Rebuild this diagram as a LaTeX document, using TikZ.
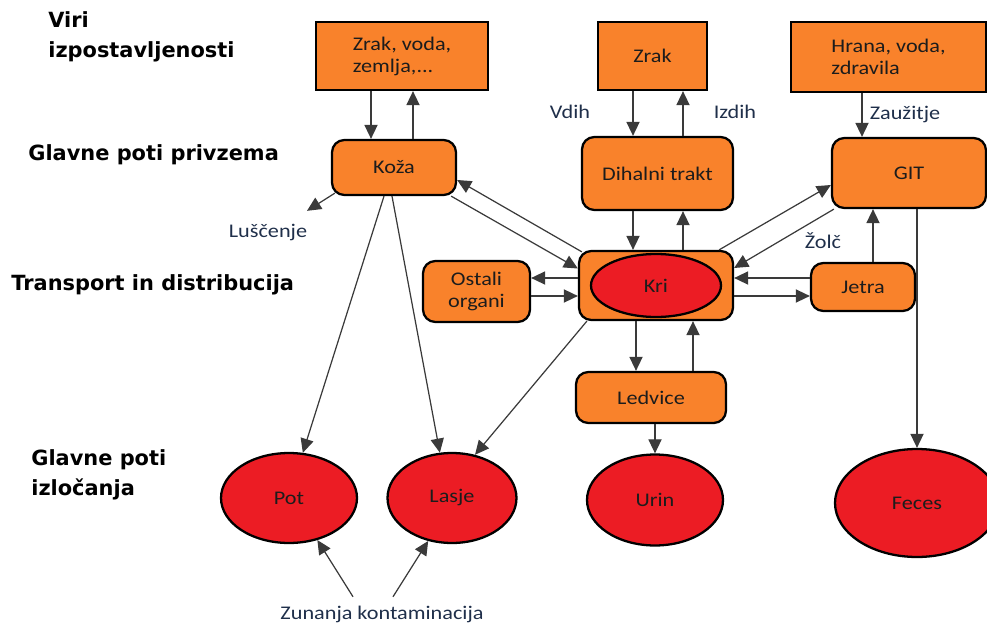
\documentclass[tikz,border=0pt]{standalone}
\usepackage{fontspec}
\setmainfont{Carlito}
\newfontfamily\nodefont[FakeStretch=1.15]{Carlito}
\newfontfamily\headfont{DejaVu Sans}
\usetikzlibrary{arrows.meta,positioning,shapes.geometric}
\definecolor{OrgOrange}{HTML}{F9822B}
\definecolor{OrgRed}{HTML}{EC1C24}
\definecolor{OrgInk}{HTML}{1C1C1C}
\definecolor{OrgNote}{HTML}{1F2F4A}
\definecolor{OrgLine}{HTML}{3A3A3A}

\begin{document}
\begin{tikzpicture}[x=0.02cm, y=-0.02cm, >={Triangle[length=8pt,width=7.5pt]},
  source/.style={draw=black, line width=1.3pt, fill=OrgOrange, text=OrgInk, inner sep=0pt, font=\nodefont\fontsize{11}{12.5}\selectfont},
  organ/.style={source, rounded corners=7pt, align=center},
  outlet/.style={ellipse, draw=black, line width=1.3pt, fill=OrgRed, text=OrgInk, inner sep=0pt, font=\nodefont\fontsize{11}{12.5}\selectfont},
  heading/.style={anchor=west, align=left, inner sep=0pt, font=\headfont\bfseries\fontsize{11.9}{17}\selectfont},
  note/.style={text=OrgNote, inner sep=2pt, font=\nodefont\fontsize{11}{12.5}\selectfont},
  arr/.style={->, OrgLine, line width=0.7pt}]
\useasboundingbox (0,0) rectangle (987,625);
% levels
\node[heading] (hviri) at (48,37) {Viri\\izpostavljenosti};
\node[heading] (hpriv) at (28,155) {Glavne poti privzema};
\node[heading] (htrans) at (11,285) {Transport in distribucija};
\node[heading] (hizl) at (31,475) {Glavne poti\\izločanja};
% sources
\node[source, minimum width=3.44cm, minimum height=1.36cm, align=left] (zvz) at (402,56) {Zrak, voda,\\zemlja,...};
\node[source, minimum width=2.18cm, minimum height=1.36cm] (zrak) at (652.5,56) {Zrak};
\node[source, minimum width=3.9cm, minimum height=1.4cm, align=left] (hrana) at (888.5,57) {Hrana, voda,\\zdravila};
% uptake
\node[organ, minimum width=2.48cm, minimum height=1.1cm] (koza) at (394,167.5) {Koža};
\node[organ, minimum width=3.02cm, minimum height=1.46cm] (dih) at (657.5,173.5) {Dihalni trakt};
\node[organ, minimum width=3.08cm, minimum height=1.4cm] (git) at (909,173) {GIT};
% distribution
\node[organ, minimum width=3.08cm, minimum height=1.38cm] (kri) at (656,285.5) {};
\node[outlet, minimum width=2.6cm, minimum height=1.26cm] (blood) at (kri) {Kri};
\node[organ, minimum width=2.14cm, minimum height=1.22cm] (ostali) at (476.5,291.5) {Ostali\\organi};
\node[organ, minimum width=2.08cm, minimum height=0.96cm] (jetra) at (863,287) {Jetra};
\node[organ, minimum width=3.0cm, minimum height=1.02cm] (led) at (651,397.5) {Ledvice};
% excretion
\node[outlet, minimum width=2.72cm, minimum height=1.8cm] (pot) at (289,498) {Pot};
\node[outlet, minimum width=2.58cm, minimum height=1.8cm] (lasje) at (452,498) {Lasje};
\node[outlet, minimum width=2.72cm, minimum height=1.82cm] (urin) at (655,500) {Urin};
\node[outlet, minimum width=3.28cm, minimum height=2.16cm] (feces) at (917,503) {Feces};
% labels
\node[note] (vdih) at (570,112) {Vdih};
\node[note] (izdih) at (735,112) {Izdih};
\node[note] (zauz) at (905,115) {Zaužitje};
\node[note] (lus) at (268,233) {Luščenje};
\node[note] (zolc) at (823,241) {Žolč};
\node[note] (zun) at (382,614) {Zunanja kontaminacija};
% sources <-> uptake
\draw[arr] ([xshift=-0.46cm]koza.north |- zvz.south) -- ([xshift=-0.46cm]koza.north);
\draw[arr] ([xshift=0.38cm]koza.north) -- ([xshift=0.38cm]koza.north |- zvz.south);
\draw[arr] ([xshift=-0.49cm]dih.north |- zrak.south) -- ([xshift=-0.49cm]dih.north);
\draw[arr] ([xshift=0.51cm]dih.north) -- ([xshift=0.51cm]dih.north |- zrak.south);
\draw[arr] ([xshift=-0.94cm]git.north |- hrana.south) -- ([xshift=-0.94cm]git.north);
% uptake <-> blood
\draw[arr] ([xshift=-0.49cm]dih.south) -- ([xshift=-0.49cm]dih.south |- kri.north);
\draw[arr] ([xshift=0.51cm]dih.south |- kri.north) -- ([xshift=0.51cm]dih.south);
\draw[arr] ([xshift=0.08cm,yshift=-0.04cm]kri.north west) -- ([yshift=-0.25cm]koza.east);
\draw[arr] ([xshift=-0.12cm]koza.south east) -- ([yshift=0.34cm]kri.west);
\draw[arr] ([xshift=-0.3cm]kri.north east) -- ([yshift=-0.24cm]git.west);
\draw[arr] ([xshift=0.06cm]git.south west) -- ([yshift=0.35cm]kri.east);
% blood <-> organs
\draw[arr] ([yshift=0.15cm]kri.west) -- ([yshift=0.15cm]kri.west -| ostali.east);
\draw[arr] ([yshift=-0.21cm]kri.west -| ostali.east) -- ([yshift=-0.21cm]kri.west);
\draw[arr] ([yshift=0.15cm]kri.east -| jetra.west) -- ([yshift=0.15cm]kri.east);
\draw[arr] ([yshift=-0.21cm]kri.east) -- ([yshift=-0.21cm]kri.east -| jetra.west);
\draw[arr] ([xshift=0.2cm]jetra.north) -- ([xshift=0.2cm]jetra.north |- git.south);
\draw[arr] ([xshift=-0.4cm]kri.south) -- ([xshift=-0.4cm]kri.south |- led.north);
\draw[arr] ([xshift=0.74cm]kri.south |- led.north) -- ([xshift=0.74cm]kri.south);
% excretion
\draw[arr] ([xshift=0.08cm,yshift=0.06cm]koza.south west) -- ([xshift=-0.08cm,yshift=0.2cm]lus.north east);
\draw[arr] ([xshift=-0.2cm]koza.south) -- (pot.73);
\draw[arr] ([xshift=-0.04cm]koza.south) -- (lasje.105);
\draw[arr] ([xshift=0.18cm]kri.south west) -- (lasje.62);
\draw[arr] (led.south -| urin.north) -- (urin.north);
\draw[arr] (git.south -| feces.north) -- (feces.north);
\draw[arr] ([xshift=-0.58cm,yshift=0.1cm]zun.north) -- (pot.-56);
\draw[arr] ([xshift=0.22cm,yshift=0.1cm]zun.north) -- (lasje.-119);
\end{tikzpicture}
\end{document}
